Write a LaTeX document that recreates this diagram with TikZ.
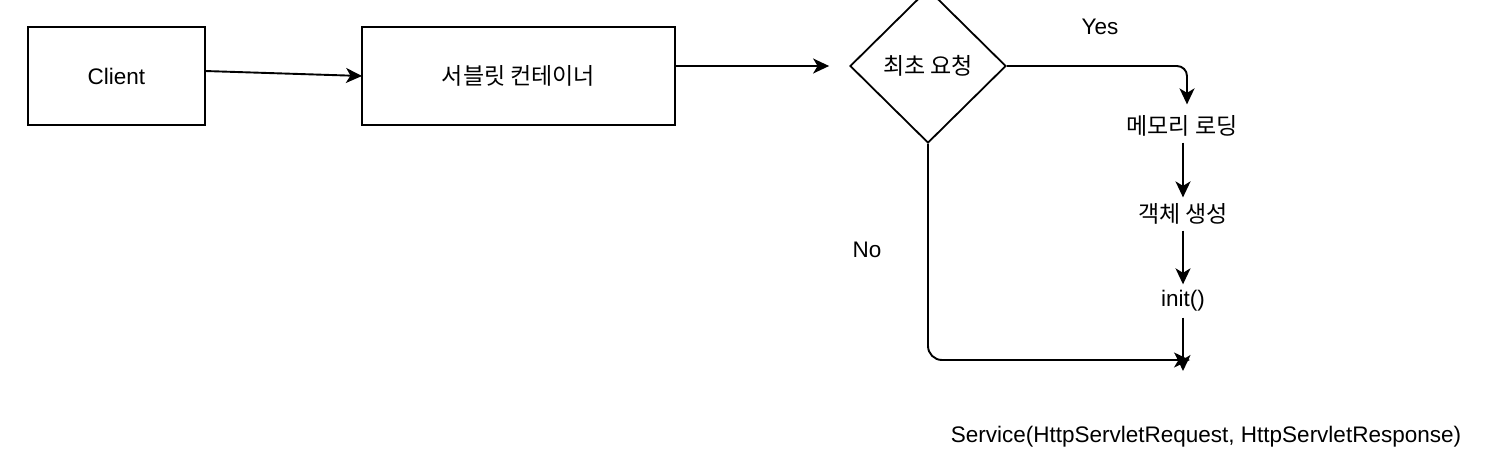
\documentclass[tikz,border=0pt]{standalone}
\usepackage{fontspec}
\setmainfont{Liberation Sans}
\newfontfamily\kofont{Noto Sans CJK KR}
\usetikzlibrary{shapes.geometric,arrows.meta}
\begin{document}
\begin{tikzpicture}[x=1pt,y=-1pt,
  box/.style={draw=black,line width=1.8pt,inner sep=0pt,font=\fontsize{22.5}{26}\selectfont},
  lbl/.style={inner sep=6pt,font=\fontsize{22.5}{26}\selectfont},
  conn/.style={draw=black,line width=1.9pt,-{Stealth[length=16pt,width=15pt,inset=4.5pt]}},
  kor/.style={font=\fontsize{23}{26}\selectfont\kofont}]
\useasboundingbox (0,0) rectangle (1504,474);
\node[box,minimum width=177pt,minimum height=98pt] (client) at (116.5,76) {Client};
\node[box,kor,minimum width=313pt,minimum height=98pt] (cont) at (518.5,76) {서블릿 컨테이너};
\node[draw=black,line width=1.8pt,shape=diamond,aspect=1.01,minimum width=156pt,minimum height=154pt,inner sep=0pt,kor] (dia) at (928,66) {최초 요청};
\node[lbl] (yes) at (1100,27) {Yes};
\node[lbl] (no) at (867,250) {No};
\node[lbl,kor] (mem) at (1182,126) {메모리 로딩};
\node[lbl,kor] (obj) at (1183,214) {객체 생성};
\node[lbl] (init) at (1183,301) {init()};
\node[lbl] (svc) at (1206,437) {Service(HttpServletRequest, HttpServletResponse)};
\coordinate (noend) at (1190,360);
\coordinate (initend) at (1183,371);
\coordinate (cs) at (205,71);
\coordinate (ce) at (362,76);
\draw[conn] (cs) -- (ce);
\draw[conn,shorten >=20pt] (cont.east |- dia) -- (dia.west);
\draw[conn,rounded corners=10pt,shorten >=5pt] (dia.east) -| ([xshift=5pt]mem.north);
\draw[conn] (mem.south -| obj) -- (obj.north);
\draw[conn] (obj.south) -- (init.north);
\draw[conn] (init.south) -- (initend);
\draw[conn,rounded corners=14pt] (dia.south) |- (noend);
\end{tikzpicture}
\end{document}
